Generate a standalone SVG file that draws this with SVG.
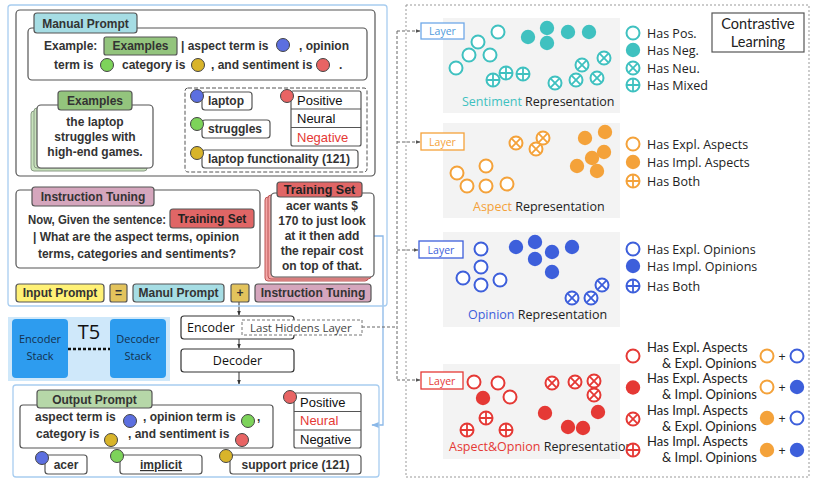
<svg xmlns="http://www.w3.org/2000/svg" width="818" height="482" viewBox="0 0 818 482">
<defs>
<style>
.b{font-family:"Liberation Sans",Arial,sans-serif;font-weight:bold;font-size:12px;fill:#333}
.bc{font-family:"Liberation Sans",Arial,sans-serif;font-weight:bold;font-size:12px;fill:#333;text-anchor:middle}
.r{font-family:"Liberation Sans",Arial,sans-serif;font-size:13px;fill:#111}
.o{font-family:"Open Sans","Noto Sans",sans-serif;font-size:12.5px;fill:#222}
.la{font-family:Lato,"Open Sans",sans-serif;font-size:13px;fill:#222}
.box{fill:#fff;stroke:#555;stroke-width:1.2}
.tab{stroke:#555;stroke-width:1.2}
.lb{fill:none;stroke:#a8cdf0;stroke-width:1.3}
.lc{stroke:#444;stroke-width:1}
.bg{fill:#f3f3f3}
.lay{fill:#fff;stroke-width:1.3}
.layt{font-family:"Open Sans","Noto Sans",sans-serif;font-size:10.5px;text-anchor:middle}
.dash{fill:none;stroke:#666;stroke-width:1;stroke-dasharray:3 2}
</style>
<marker id="ab" viewBox="0 0 10 10" refX="9" refY="5" markerWidth="6" markerHeight="6" orient="auto"><path d="M0,1L10,5L0,9z" fill="#8bb8e8"/></marker>
<marker id="ak" viewBox="0 0 10 10" refX="9" refY="5" markerWidth="5" markerHeight="5" orient="auto"><path d="M0,1L10,5L0,9z" fill="#333"/></marker>
<marker id="ag" viewBox="0 0 10 10" refX="9" refY="5" markerWidth="5" markerHeight="5" orient="auto"><path d="M0,1L10,5L0,9z" fill="#555"/></marker>
<g id="ho"><circle r="6.5" fill="#fff" stroke="currentColor" stroke-width="2"/></g>
<g id="fi"><circle r="7.2" fill="currentColor"/></g>
<g id="cx"><circle r="6.5" fill="#fff" stroke="currentColor" stroke-width="2"/><path d="M-4.3,-4.3L4.3,4.3M-4.3,4.3L4.3,-4.3" stroke="currentColor" stroke-width="1.8"/></g>
<g id="cp"><circle r="6.5" fill="#fff" stroke="currentColor" stroke-width="2"/><path d="M-6.5,0H6.5M0,-6.5V6.5" stroke="currentColor" stroke-width="1.8"/></g>
</defs>
<rect width="818" height="482" fill="#fff"/>

<g id="connectors">
<path d="M155,133H183" fill="none" stroke="#8bb8e8" stroke-width="1.3" marker-end="url(#ab)"/>
<path d="M374,236H383V425H372" fill="none" stroke="#8bb8e8" stroke-width="1.3" marker-end="url(#ab)"/>
<path d="M239,302V315" fill="none" stroke="#333" stroke-width="1" marker-end="url(#ak)"/>
<path d="M239,339V348" fill="none" stroke="#333" stroke-width="1" marker-end="url(#ak)"/>
<path d="M239,372V384" fill="none" stroke="#333" stroke-width="1" marker-end="url(#ak)"/>
<path d="M362,327H397" class="dash"/>
<path d="M397,31V380" class="dash"/>
<path d="M397,31H420" class="dash" marker-end="url(#ag)"/>
<path d="M397,142H420" class="dash" marker-end="url(#ag)"/>
<path d="M397,250H418" class="dash" marker-end="url(#ag)"/>
<path d="M397,380H420" class="dash" marker-end="url(#ag)"/>
</g>

<g id="input-panel"><rect x="8" y="5" width="379" height="301" rx="3" class="lb"/></g>

<g id="manual-prompt">
<rect x="16" y="10" width="359" height="166" rx="4" class="box"/>
<rect x="28" y="28" width="339" height="52" rx="4" class="box"/>
<rect x="34" y="13" width="103" height="20" rx="3" class="tab" fill="#a6dde4"/>
<text x="85.5" y="28" class="bc">Manual Prompt</text>
<text x="44" y="50" class="b">Example:</text>
<rect x="104" y="37" width="73" height="18" rx="2" class="tab" fill="#93c47d"/>
<text x="140.5" y="50" class="bc">Examples</text>
<text x="181" y="50" class="b">| aspect term is</text>
<circle cx="283" cy="45" r="6.5" class="lc" fill="#5c6fe0"/>
<text x="299" y="50" class="b">, opinion</text>
<text x="54" y="69" class="b">term is</text>
<circle cx="107" cy="65" r="6.5" class="lc" fill="#7dd35a"/>
<text x="122" y="69" class="b">category is</text>
<circle cx="198" cy="65" r="6.5" class="lc" fill="#d8b42a"/>
<text x="211" y="69" class="b">, and sentiment is</text>
<circle cx="323" cy="65" r="6.5" class="lc" fill="#e86464"/>
<text x="339" y="69" class="b">.</text>
</g>

<g id="examples-card">
<rect x="31" y="111" width="116" height="60" rx="3" fill="#c8e3bc" stroke="#8a9a86"/>
<rect x="34" y="108" width="116" height="60" rx="3" fill="#c8e3bc" stroke="#8a9a86"/>
<rect x="37" y="105" width="116" height="63" rx="4" class="box"/>
<rect x="58" y="91" width="74" height="19" rx="3" class="tab" fill="#93c47d"/>
<text x="95" y="105" class="bc">Examples</text>
<text x="95" y="126" class="bc">the laptop</text>
<text x="95" y="141" class="bc">struggles with</text>
<text x="95" y="156" class="bc">high-end games.</text>
</g>

<g id="extracted-elements">
<rect x="185" y="88" width="182" height="84" rx="3" fill="#fff" stroke="#555" stroke-dasharray="4 2"/>
<rect x="202" y="92" width="50" height="18" rx="3" class="box"/>
<text x="208" y="105" class="b">laptop</text>
<circle cx="197" cy="96" r="6.5" class="lc" fill="#5c6fe0"/>
<rect x="202" y="120" width="68" height="18" rx="3" class="box"/>
<text x="208" y="133" class="b">struggles</text>
<circle cx="197" cy="124" r="6.5" class="lc" fill="#7dd35a"/>
<rect x="202" y="150" width="156" height="18" rx="3" class="box"/>
<text x="208" y="163" class="b">laptop functionality (121)</text>
<circle cx="197" cy="153" r="6.5" class="lc" fill="#d8b42a"/>
<rect x="291" y="91" width="70" height="55" rx="2" class="box"/>
<path d="M291,109H361M291,127.5H361" stroke="#555" stroke-width="1.2"/>
<text x="297" y="104.5" class="r">Positive</text>
<text x="297" y="123" class="r">Neural</text>
<text x="297" y="141.5" class="r" style="fill:#e53935">Negative</text>
<circle cx="287" cy="96" r="6.5" class="lc" fill="#e86464"/>
</g>

<g id="instruction-tuning">
<rect x="16" y="190" width="244" height="78" rx="4" class="box"/>
<rect x="32" y="187" width="122" height="19" rx="3" class="tab" fill="#d5a6bd"/>
<text x="93" y="201" class="bc">Instruction Tuning</text>
<text x="28" y="224" class="b" textLength="138" lengthAdjust="spacingAndGlyphs">Now, Given the sentence:</text>
<rect x="170" y="209" width="84" height="19" rx="3" class="tab" fill="#e06666"/>
<text x="212" y="223" class="bc" style="fill:#222">Training Set</text>
<text x="136" y="241" class="bc">| What are the aspect terms, opinion</text>
<text x="137" y="258" class="bc">terms, categories and sentiments?</text>
</g>

<g id="training-set">
<rect x="265" y="197" width="103" height="84" rx="3" fill="#f4a7a7" stroke="#b55"/>
<rect x="268" y="195" width="103" height="84" rx="3" fill="#f4a7a7" stroke="#b55"/>
<rect x="271" y="193" width="103" height="84" rx="4" class="box"/>
<rect x="277" y="182" width="85" height="15" rx="3" class="tab" fill="#e06666"/>
<text x="319.5" y="194" class="bc" style="fill:#222;font-size:12.5px">Training Set</text>
<text x="322" y="210" class="bc">acer wants $</text>
<text x="322" y="225" class="bc">170 to just look</text>
<text x="322" y="240" class="bc">at it then add</text>
<text x="322" y="255" class="bc">the repair cost</text>
<text x="322" y="270" class="bc">on top of that.</text>
</g>

<g id="input-prompt-formula">
<rect x="16" y="284" width="88" height="18" rx="3" class="tab" fill="#fff176"/>
<text x="60" y="297" class="bc">Input Prompt</text>
<rect x="110" y="284" width="17" height="18" rx="2" class="tab" fill="#e3c35c"/>
<text x="118.5" y="297" class="bc">=</text>
<rect x="133" y="284" width="91" height="18" rx="3" class="tab" fill="#a6dde4"/>
<text x="178.5" y="297" class="bc">Manul Prompt</text>
<rect x="231" y="284" width="18" height="18" rx="2" class="tab" fill="#e3c35c"/>
<text x="240" y="297" class="bc">+</text>
<rect x="255" y="284" width="116" height="18" rx="3" class="tab" fill="#d5a6bd"/>
<text x="313" y="297" class="bc">Instruction Tuning</text>
</g>

<g id="t5">
<rect x="8" y="317" width="162" height="64" fill="#cfe8fa"/>
<rect x="12" y="319" width="56" height="59" rx="4" fill="#2d9cef"/>
<rect x="110" y="319" width="56" height="59" rx="4" fill="#2d9cef"/>
<text x="40" y="343" class="o" style="font-size:11px;fill:#14304d;text-anchor:middle">Encoder</text>
<text x="40" y="360" class="o" style="font-size:11px;fill:#14304d;text-anchor:middle">Stack</text>
<text x="138" y="343" class="o" style="font-size:11px;fill:#14304d;text-anchor:middle">Decoder</text>
<text x="138" y="360" class="o" style="font-size:11px;fill:#14304d;text-anchor:middle">Stack</text>
<text x="89" y="339" class="o" style="font-size:20px;fill:#111;text-anchor:middle">T5</text>
<path d="M68,349H110" stroke="#111" stroke-width="2.5" stroke-dasharray="3 2"/>
</g>

<g id="encoder">
<rect x="181" y="316" width="113" height="23" rx="3" class="box" style="stroke:#333"/>
<text x="187" y="332" class="o" style="font-size:12.5px;fill:#111">Encoder</text>
<rect x="242" y="320" width="120" height="15" fill="#fff" stroke="#777" stroke-dasharray="3 2"/>
<text x="250" y="332" class="o" style="font-size:11.5px;fill:#444">Last Hiddens Layer</text>
</g>
<g id="decoder">
<rect x="181" y="349" width="113" height="23" rx="3" class="box" style="stroke:#333"/>
<text x="237.5" y="365" class="o" style="font-size:12.5px;fill:#111;text-anchor:middle">Decoder</text>
</g>

<g id="output-prompt">
<rect x="13" y="385" width="366" height="92" rx="3" class="lb"/>
<rect x="20" y="405" width="253" height="43" rx="3" class="box"/>
<rect x="37" y="390" width="115" height="18" rx="3" class="tab" fill="#b6d7a8"/>
<text x="94.5" y="404" class="bc">Output Prompt</text>
<text x="35" y="421" class="b">aspect term is</text>
<circle cx="130" cy="421" r="6.5" class="lc" fill="#5c6fe0"/>
<text x="143" y="421" class="b">, opinion term is</text>
<circle cx="248" cy="421" r="6.5" class="lc" fill="#7dd35a"/>
<text x="257" y="421" class="b">,</text>
<text x="36" y="438" class="b">category is</text>
<circle cx="111" cy="440" r="6.5" class="lc" fill="#d8b42a"/>
<text x="128" y="438" class="b">, and sentiment is</text>
<circle cx="242" cy="440" r="6.5" class="lc" fill="#e86464"/>
<rect x="294" y="393" width="67" height="55" rx="2" class="box"/>
<path d="M294,411.5H361M294,430H361" stroke="#555" stroke-width="1.2"/>
<text x="300" y="406.5" class="r">Positive</text>
<text x="300" y="425" class="r" style="fill:#e53935">Neural</text>
<text x="300" y="443.5" class="r">Negative</text>
<circle cx="290" cy="397" r="6.5" class="lc" fill="#e86464"/>
<rect x="45" y="455" width="42" height="19" rx="3" class="box"/>
<text x="66" y="469" class="bc">acer</text>
<circle cx="42" cy="458" r="6.5" class="lc" fill="#5c6fe0"/>
<rect x="120" y="455" width="82" height="19" rx="3" class="box"/>
<text x="161" y="469" class="bc" text-decoration="underline">implicit</text>
<circle cx="117" cy="456" r="6.5" class="lc" fill="#7dd35a"/>
<rect x="230" y="455" width="131" height="19" rx="3" class="box"/>
<text x="295.5" y="469" class="bc">support price (121)</text>
<circle cx="226" cy="456" r="6.5" class="lc" fill="#d8b42a"/>
</g>

<g id="contrastive-panel">
<rect x="406" y="5" width="403" height="472" fill="none" stroke="#999" stroke-dasharray="2 2"/>
</g>
<g id="contrastive-label">
<rect x="712" y="13" width="92" height="39" fill="#fff" stroke="#555" stroke-width="1.2"/>
<text x="758" y="29.2" class="la" style="font-size:14.5px;text-anchor:middle">Contrastive</text>
<text x="758" y="46.8" class="la" style="font-size:14.5px;text-anchor:middle">Learning</text>
</g>

<g id="sentiment-rep" style="color:#3fc1c0">
<rect x="443" y="18" width="177" height="95" class="bg"/>
<rect x="421" y="23" width="43" height="16" class="lay" stroke="#6fa8e8"/>
<text x="442.5" y="35" class="layt" fill="#4f9bdc">Layer</text>
<use href="#ho" x="498" y="32"/><use href="#ho" x="478" y="42"/><use href="#ho" x="469" y="55"/><use href="#ho" x="490" y="55"/><use href="#ho" x="456" y="68"/>
<use href="#fi" x="528" y="37"/><use href="#fi" x="547" y="28"/><use href="#fi" x="547" y="43"/><use href="#fi" x="568" y="32"/><use href="#fi" x="589" y="32"/>
<use href="#cp" x="493" y="80"/><use href="#cp" x="506" y="73"/><use href="#cp" x="523" y="74"/>
<use href="#cx" x="555" y="83"/><use href="#cx" x="576" y="80"/><use href="#cx" x="582" y="65"/><use href="#cx" x="597" y="78"/><use href="#cx" x="604" y="58"/>
<text x="462" y="106" class="o"><tspan fill="#3fc1c0">Sentiment</tspan> Representation</text>
<use href="#ho" x="633" y="33"/><text x="647" y="37.5" class="o">Has Pos.</text>
<use href="#fi" x="633" y="50"/><text x="647" y="54.5" class="o">Has Neg.</text>
<use href="#cx" x="633" y="68"/><text x="647" y="72.5" class="o">Has Neu.</text>
<use href="#cp" x="633" y="85"/><text x="647" y="89.5" class="o">Has Mixed</text>
</g>

<g id="aspect-rep" style="color:#f4a23a">
<rect x="443" y="123" width="177" height="95" class="bg"/>
<rect x="421" y="133" width="43" height="17" class="lay" stroke="#f4a23a"/>
<text x="442.5" y="145.5" class="layt" fill="#f4a23a">Layer</text>
<use href="#ho" x="457" y="173"/><use href="#ho" x="467" y="186"/><use href="#ho" x="486" y="166"/><use href="#ho" x="486" y="186"/><use href="#ho" x="507" y="184"/>
<use href="#cx" x="516" y="143"/><use href="#cx" x="543" y="138"/><use href="#cx" x="536" y="149"/>
<use href="#fi" x="585" y="138"/><use href="#fi" x="605" y="132"/><use href="#fi" x="604" y="152"/><use href="#fi" x="592" y="158"/><use href="#fi" x="577" y="166"/><use href="#fi" x="597" y="171"/>
<text x="473" y="211" class="o"><tspan fill="#f4a23a">Aspect</tspan> Representation</text>
<use href="#ho" x="633" y="144"/><text x="647" y="148.5" class="o">Has Expl. Aspects</text>
<use href="#fi" x="633" y="162"/><text x="647" y="166.5" class="o">Has Impl. Aspects</text>
<use href="#cp" x="633" y="181"/><text x="647" y="185.5" class="o">Has Both</text>
</g>

<g id="opinion-rep" style="color:#3d5fdb">
<rect x="443" y="232" width="177" height="95" class="bg"/>
<rect x="419" y="241" width="44" height="17" class="lay" stroke="#3d5fdb"/>
<text x="441" y="253.5" class="layt" fill="#3d5fdb">Layer</text>
<use href="#ho" x="481" y="249"/><use href="#ho" x="481" y="267"/><use href="#ho" x="463" y="278"/><use href="#ho" x="481" y="285"/><use href="#ho" x="500" y="280"/>
<use href="#fi" x="516" y="247"/><use href="#fi" x="535" y="242"/><use href="#fi" x="552" y="252"/><use href="#fi" x="535" y="259"/><use href="#fi" x="552" y="272"/><use href="#fi" x="572" y="247"/>
<use href="#cx" x="572" y="298"/><use href="#cx" x="591" y="298"/><use href="#cx" x="602" y="285"/>
<text x="468" y="319" class="o"><tspan fill="#3d5fdb">Opinion</tspan> Representation</text>
<use href="#ho" x="633" y="249"/><text x="647" y="253.5" class="o">Has Expl. Opinions</text>
<use href="#fi" x="633" y="266"/><text x="647" y="270.5" class="o">Has Impl. Opinions</text>
<use href="#cp" x="633" y="286"/><text x="647" y="290.5" class="o">Has Both</text>
</g>

<g id="aspect-opinion-rep" style="color:#e53935">
<rect x="443" y="364" width="177" height="95" class="bg"/>
<rect x="421" y="372" width="42" height="17" class="lay" stroke="#e53935"/>
<text x="442" y="384.5" class="layt" fill="#e53935">Layer</text>
<use href="#ho" x="474" y="382"/><use href="#ho" x="498" y="383"/><use href="#ho" x="510" y="397"/>
<use href="#fi" x="483" y="398"/><use href="#fi" x="545" y="413"/><use href="#fi" x="568" y="427"/><use href="#fi" x="583" y="428"/><use href="#fi" x="598" y="412"/>
<use href="#cx" x="552" y="383"/><use href="#cx" x="575" y="382"/><use href="#cx" x="594" y="381"/><use href="#cx" x="594" y="395"/>
<use href="#cp" x="467" y="430"/><use href="#cp" x="486" y="418"/><use href="#cp" x="506" y="430"/>
<text x="449" y="451" class="o"><tspan fill="#e53935">Aspect&amp;Opnion</tspan> Representation</text>
<use href="#ho" x="633" y="356"/><text x="647" y="352" class="la">Has Expl. Aspects</text><text x="662" y="367.7" class="la">&amp; Expl. Opinions</text>
<use href="#fi" x="633" y="387.5"/><text x="647" y="383.4" class="la">Has Expl. Aspects</text><text x="662" y="399.1" class="la">&amp; Impl. Opinions</text>
<use href="#cx" x="633" y="419"/><text x="647" y="414.8" class="la">Has Impl. Aspects</text><text x="662" y="430.5" class="la">&amp; Expl. Opinions</text>
<use href="#cp" x="633" y="450"/><text x="647" y="446.2" class="la">Has Impl. Aspects</text><text x="662" y="461.9" class="la">&amp; Impl. Opinions</text>
<use href="#ho" x="767" y="356" style="color:#f4a23a"/><text x="782" y="360.5" class="o" style="text-anchor:middle">+</text><use href="#ho" x="797" y="356" style="color:#3d5fdb"/>
<use href="#ho" x="767" y="387" style="color:#f4a23a"/><text x="782" y="391.5" class="o" style="text-anchor:middle">+</text><use href="#fi" x="797" y="387" style="color:#3d5fdb"/>
<use href="#fi" x="767" y="418" style="color:#f4a23a"/><text x="782" y="422.5" class="o" style="text-anchor:middle">+</text><use href="#ho" x="797" y="418" style="color:#3d5fdb"/>
<use href="#fi" x="767" y="450" style="color:#f4a23a"/><text x="782" y="454.5" class="o" style="text-anchor:middle">+</text><use href="#fi" x="797" y="450" style="color:#3d5fdb"/>
</g>
</svg>
